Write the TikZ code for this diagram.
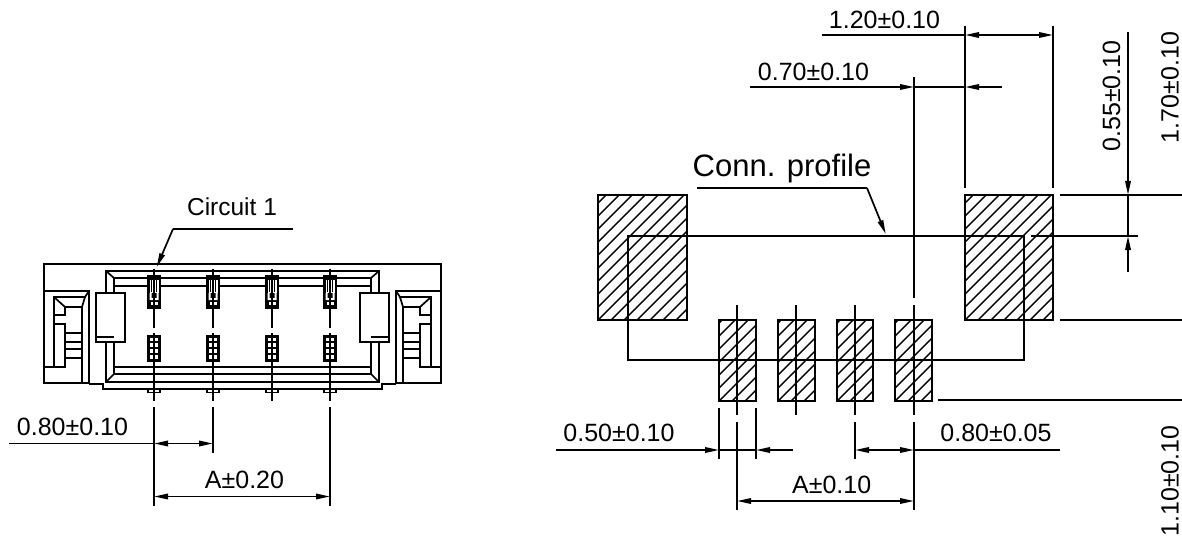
\documentclass[tikz,border=0pt]{standalone}
\usepackage{fontspec}
\setmainfont{Liberation Sans}
\usetikzlibrary{arrows.meta}
\begin{document}
\begin{tikzpicture}[x=1pt,y=-1pt,line width=1.7pt]
	\tikzstyle{dimtext}=[anchor=base,inner sep=0pt,font=\fontsize{25}{25}\selectfont]
	\tikzstyle{dimarrow}=[-{Triangle[length=14pt,width=5.5pt]}]
	\tikzstyle{dimboth}=[{Triangle[length=14pt,width=5.5pt]}-{Triangle[length=14pt,width=5.5pt]}]
	\tikzstyle{hatchline}=[line width=1.4pt]
	\useasboundingbox (0,0) rectangle (1182,540);
	% left view, housing
	\draw (89,264) -- (44,264) -- (44,383) -- (89,383);
	\draw (44,264) -- (441,264) -- (441,383) -- (396,383);
	\foreach \s/\o in {1/0,-1/485}{
		\begin{scope}[shift={(\o,0)},xscale=\s]
			\draw (44,291) -- (89,291) -- (89,383);
			\draw[line width=2.6pt] (44,383) -- (82,383);
			\draw (54,367) -- (54,297) -- (85,297) -- (89,291);
			\draw (54,297) -- (65,307) -- (82,307) -- (82,383);
			\draw (82,307) -- (85,297);
			\draw (65,307) -- (65,315) -- (54,315);
			\draw (54,324) rectangle (65,367);
			\draw (44,367) -- (54,367);
			\foreach \y in {333,342,349,358}{
				\draw (65,\y) -- (82,\y);
			}
			\draw (106,293) -- (106,271) -- (243,271);
			\draw (114,293) -- (114,278) -- (243,278);
			\draw (106,271) -- (114,278);
			\draw (114,286) -- (243,286);
			\draw (106,342) -- (106,382) -- (243,382);
			\draw (114,342) -- (114,374) -- (243,374);
			\draw (106,382) -- (114,374);
			\draw (114,367) -- (243,367);
			\draw (89,384) -- (103,384) -- (103,389) -- (243,389);
			\draw (96,293) rectangle (125,342);
			\draw (96,337) -- (114,337);
		\end{scope}
	}
	% left view, pins
	\foreach \x in {154,213,272,330}{
		\fill[black] (\x-7,275) rectangle (\x+7,309);
		\fill[white] (\x-4.5,280) rectangle (\x+4.5,293);
		\draw[line width=1pt] (\x-2.2,280) -- (\x-2.2,292);
		\draw[line width=1pt] (\x+2.2,280) -- (\x+2.2,292);
		\fill[white] (\x-4.5,293) -- (\x-2.5,293) -- (\x-2.5,298) -- (\x+2.5,298) -- (\x+2.5,293) -- (\x+4.5,293) -- (\x+4.5,300) -- (\x-4.5,300) -- cycle;
		\fill[white] (\x-3.5,301.5) rectangle (\x+3.5,304.5);
		\draw[line width=3pt] (\x-5.5,336.5) rectangle (\x+5.5,360);
		\foreach \y in {342,348,354}{
			\draw[line width=1.4pt] (\x-5,\y) -- (\x+5,\y);
		}
		\draw[line width=1.2pt] (\x-6,389.5) -- (\x-6,392.5) -- (\x+6,392.5) -- (\x+6,389.5);
		\draw (\x,268.7) -- (\x,328);
		\draw (\x,333) -- (\x,400.7);
	}
	% left view, dimensions
	\draw (154,407) -- (154,506);
	\draw (213,407) -- (213,453);
	\draw (330,407) -- (330,506);
	\draw (9,443.5) -- (154,443.5);
	\draw[dimboth] (154,443.5) -- (213,443.5);
	\draw[dimboth] (154,496.5) -- (330,496.5);
	\node[dimtext] (dim_pitch_left) at (72.5,435) {0.80±0.10};
	\node[dimtext] (dim_a_left) at (244.5,488) {A±0.20};
	\node[dimtext,font=\fontsize{24.5}{25}\selectfont] (circuit) at (232,215) {Circuit 1};
	\draw (293,229) -- (173,229);
	\draw[dimarrow] (173,229) -- (156.7,267);
	% right view, pads
	\foreach \xa/\ya/\xb/\yb in {598/195/687/320,965/195/1053/320,719/320/756/401,778/320/815/401,837/320/873/401,895/320/932/401}{
		\begin{scope}
			\clip (\xa,\ya) rectangle (\xb,\yb);
			\foreach \k in {0,...,24}{
				\draw[hatchline] (\xa-130+\k*13,\yb) -- ++(200,-200);
			}
		\end{scope}
		\draw (\xa,\ya) rectangle (\xb,\yb);
	}
	% right view, connector profile
	\draw (1024,360) -- (1024,236) -- (628,236) -- (628,360) -- cycle;
	\draw (1031,236) -- (1138,236);
	\node[dimtext,font=\fontsize{31}{31}\selectfont] (profile) at (782,176) {Conn. profile};
	\draw (697,188) -- (867,188);
	\draw[dimarrow] (867,188) -- (885.7,234);
	% right view, centre lines
	\foreach \x in {737,796,855,914}{
		\draw (\x,305) -- (\x,415);
	}
	\draw (914,77) -- (914,298);
	\draw (737,422) -- (737,510);
	\draw (914,422) -- (914,510);
	\draw (855,422) -- (855,459);
	\draw (719,408) -- (719,459);
	\draw (756,408) -- (756,459);
	% right view, bottom dimensions
	\draw[dimarrow] (556,450) -- (719,450);
	\draw[dimarrow] (793,450) -- (756,450);
	\draw (719,450) -- (756,450);
	\draw[dimboth] (855,450) -- (914,450);
	\draw (914,450) -- (1060,450);
	\draw[dimboth] (737,501) -- (914,501);
	\node[dimtext] (dim_width) at (619,441.7) {0.50±0.10};
	\node[dimtext] (dim_pitch_right) at (996,441.7) {0.80±0.05};
	\node[dimtext] (dim_a_right) at (831.7,493) {A±0.10};
	% right view, top dimensions
	\draw (965,26) -- (965,188);
	\draw (1053,26) -- (1053,188);
	\draw (822,35) -- (965,35);
	\draw[dimboth] (965,35) -- (1053,35);
	\draw[dimarrow] (750,87) -- (914,87);
	\draw[dimarrow] (1002,87) -- (965,87);
	\draw (914,87) -- (965,87);
	\node[dimtext] (dim_outer) at (884.5,29) {1.20±0.10};
	\node[dimtext] (dim_inner) at (813.5,81) {0.70±0.10};
	% right view, side dimensions
	\draw (1060,195) -- (1182,195);
	\draw (1060,320) -- (1182,320);
	\draw (938,400) -- (1182,400);
	\draw[dimarrow] (1128,32) -- (1128,195);
	\draw[dimarrow] (1128,272) -- (1128,236);
	\draw (1128,195) -- (1128,236);
	\node[dimtext,rotate=90] (dim_offset) at (1120,96) {0.55±0.10};
	\node[dimtext,rotate=90] (dim_height) at (1178.5,87.5) {1.70±0.10};
	\node[dimtext,rotate=90] (dim_land) at (1178.5,481) {1.10±0.10};
\end{tikzpicture}
\end{document}
